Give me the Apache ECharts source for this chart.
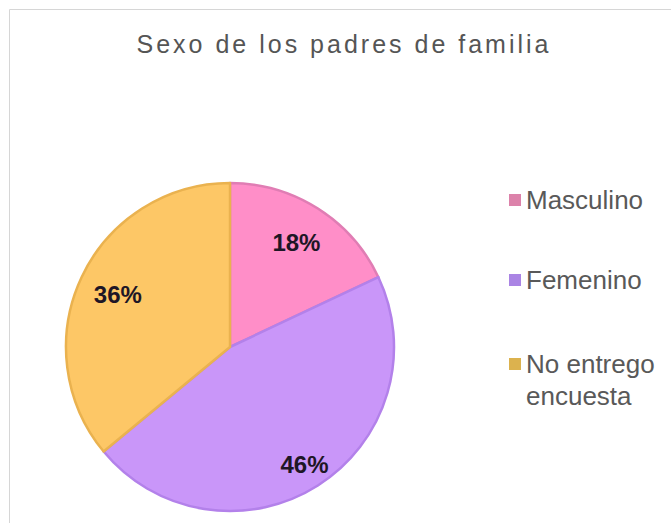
<!DOCTYPE html>
<html>
<head>
<meta charset="utf-8">
<script src="https://cdn.jsdelivr.net/npm/echarts@6/dist/echarts.min.js"></script>
<style>
  html, body { margin: 0; padding: 0; background: #ffffff; }
  #chart { width: 671px; height: 523px; }
</style>
</head>
<body>
<div id="chart"></div>
<script>
const titleText = 'Sexo de los padres de familia';
const categories = ['Masculino', 'Femenino', 'No entrego encuesta'];
const values = [18, 46, 36];
const fillColors = ['#FF8EC8', '#C996F9', '#FDC766'];
const borderColors = ['#E07DB4', '#B381EA', '#EAB24F'];
const legendColors = ['#DC82AA', '#AA84E4', '#DCB24E'];

const chart = echarts.init(document.getElementById('chart'), null, { renderer: 'svg' });

const CENTER = [230, 347];

const mainData = categories.map((c, i) => ({
  name: c,
  value: values[i],
  itemStyle: { color: fillColors[i], borderColor: borderColors[i], borderWidth: 2.5 }
}));

// label-only rings: labels sit at half the ring radius
function labelData(showIdx) {
  return categories.map((c, i) => ({
    name: c,
    value: values[i],
    label: { show: showIdx.indexOf(i) >= 0 }
  }));
}

const labelStyle = {
  show: true,
  position: 'inside',
  formatter: (p) => p.value + '%',
  fontFamily: 'Liberation Sans',
  fontSize: 24,
  fontWeight: 'bold',
  color: '#1e1626'
};

function labelSeries(radius, showIdx) {
  return {
    type: 'pie',
    center: CENTER,
    radius: radius,
    startAngle: 90,
    clockwise: true,
    silent: true,
    itemStyle: { color: 'rgba(0,0,0,0)', borderWidth: 0 },
    label: labelStyle,
    labelLine: { show: false },
    emphasis: { disabled: true },
    data: labelData(showIdx)
  };
}

function legendFor(i, top) {
  return {
    orient: 'vertical',
    left: 509,
    top: top,
    padding: 0,
    icon: 'rect',
    itemWidth: 12,
    itemHeight: 12,
    selectedMode: false,
    // multi-line name: an empty first line keeps the icon beside "No entrego"
    formatter: (n) => n.indexOf('entrego ') >= 0 ? '\n' + n.replace('entrego ', 'entrego\n') : n,
    textStyle: {
      fontFamily: 'Liberation Sans',
      fontSize: 26,
      lineHeight: 32,
      color: '#595959'
    },
    data: [{
      name: categories[i],
      itemStyle: { color: legendColors[i], borderWidth: 0 }
    }]
  };
}

const option = {
  animation: false,
  backgroundColor: '#ffffff',
  title: {
    text: titleText,
    left: 344,
    top: 29,
    padding: 0,
    textAlign: 'center',
    textStyle: {
      fontFamily: 'Liberation Sans',
      fontSize: 25,
      lineHeight: 30,
      fontWeight: 'normal',
      color: '#555555'
    }
  },
  graphic: [{
    type: 'rect',
    shape: { x: 9.5, y: 9.5, width: 700, height: 600 },
    style: { fill: 'none', stroke: '#d6d6d6', lineWidth: 1 },
    silent: true,
    z: -10
  }],
  legend: [
    legendFor(0, 184),
    legendFor(1, 264),
    legendFor(2, 316)
  ],
  series: [
    {
      type: 'pie',
      center: CENTER,
      radius: 164,
      startAngle: 90,
      clockwise: true,
      silent: true,
      label: { show: false },
      labelLine: { show: false },
      emphasis: { disabled: true },
      data: mainData
    },
    labelSeries(242, [0, 2]),
    labelSeries(272, [1])
  ]
};

chart.setOption(option);

function applySpacing() {
  const texts = document.querySelectorAll('#chart text');
  texts.forEach((t) => {
    if (t.textContent === titleText) {
      t.setAttribute('letter-spacing', '3');
    }
  });
}
try { chart.getZr().flush(); } catch (e) {}
applySpacing();
chart.on('finished', applySpacing);
setTimeout(applySpacing, 50);
</script>
</body>
</html>
